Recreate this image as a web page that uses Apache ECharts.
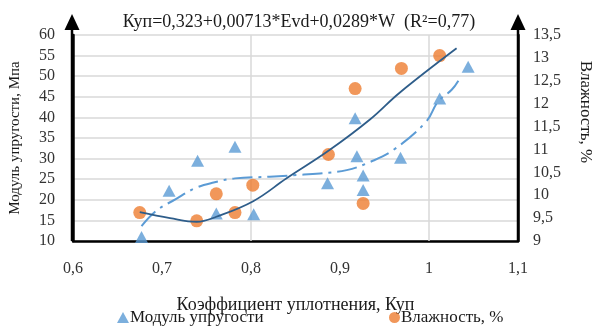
<!DOCTYPE html>
<html>
<head>
<meta charset="utf-8">
<script src="https://cdn.jsdelivr.net/npm/echarts@6/dist/echarts.min.js"></script>
<style>html,body{margin:0;padding:0;background:#fff}#c{width:598px;height:327px}</style>
</head>
<body>
<div id="c"></div>
<script>
// ---- data ----
var titleText = 'Куп=0,323+0,00713*Evd+0,0289*W  (R²=0,77)';
var xName = 'Коэффициент уплотнения, Куп';
var yLeftName = 'Модуль упругости, Мпа';
var yRightName = 'Влажность, %';
var seriesNames = ['Модуль упругости', 'Влажность, %'];

// Модуль упругости (triangles, left axis)
var modX = [0.677, 0.708, 0.740, 0.761, 0.782, 0.803, 0.886, 0.917, 0.919, 0.926, 0.926, 0.968, 1.012, 1.044];
var modY = [11.0, 22.2, 29.5, 16.7, 32.9, 16.5, 24.0, 39.8, 30.6, 25.9, 22.4, 30.2, 44.6, 52.3];

// Влажность (circles, right axis)
var humX = [0.675, 0.739, 0.761, 0.782, 0.802, 0.887, 0.917, 0.926, 0.969, 1.012];
var humY = [9.62, 9.44, 10.03, 9.62, 10.22, 10.89, 12.33, 9.82, 12.77, 13.05];

// trend lines
var modTrendX = [0.677, 0.694, 0.715, 0.737, 0.758, 0.782, 0.821, 0.851, 0.8775, 0.9075, 0.934, 0.960, 0.997, 1.010, 1.0255, 1.033];
var modTrendY = [13.6, 17.4, 20.1, 22.8, 24.2, 25.2, 25.6, 26.0, 26.4, 27.2, 29.2, 32.1, 39.0, 43.8, 46.7, 48.9];
var humTrendX = [0.675, 0.709, 0.739, 0.761, 0.8025, 0.840, 0.887, 0.934, 0.967, 1.031];
var humTrendY = [9.63, 9.50, 9.42, 9.53, 9.87, 10.37, 10.97, 11.66, 12.24, 13.21];

// axes
var xMin = 0.6, xMax = 1.1, xStep = 0.1;
var yLMin = 10, yLMax = 60, yLStep = 5;
var yRMin = 9, yRMax = 13.5, yRStep = 0.5;
var xGridLines = [0.8, 1.0];

function zip(a, b) { return a.map(function (v, i) { return [v, b[i]]; }); }
function comma(v) { return String(Math.round(v * 10) / 10).replace('.', ','); }

var FONT = '"Liberation Serif", "DejaVu Serif", serif';
var chart = echarts.init(document.getElementById('c'), null, {renderer: 'canvas'});
var G = {left: 72, right: 80, top: 35, bottom: 86};

chart.setOption({
  animation: false,
  backgroundColor: '#fff',
  textStyle: {fontFamily: FONT},
  title: {
    text: titleText, left: 'center', top: 8,
    textStyle: {fontFamily: FONT, fontSize: 18, fontWeight: 'normal', color: '#1a1a1a'}
  },
  grid: G,
  legend: [
    {data: [{name: seriesNames[0], icon: 'triangle'}], left: 117, top: 309, padding: 0, itemWidth: 12, itemHeight: 11, itemGap: 2,
      textStyle: {fontFamily: FONT, fontSize: 17, color: '#1a1a1a', padding: [0, 0, 0, -4]}},
    {data: [{name: seriesNames[1], icon: 'circle'}], left: 389, top: 309, padding: 0, itemWidth: 11, itemHeight: 11,
      textStyle: {fontFamily: FONT, fontSize: 17, color: '#1a1a1a', padding: [0, 0, 0, -4]}}
  ],
  xAxis: {
    type: 'value', min: xMin, max: xMax, interval: xStep,
    name: xName, nameLocation: 'middle', nameGap: 55,
    nameTextStyle: {fontFamily: FONT, fontSize: 18, color: '#1a1a1a'},
    axisLine: {show: true, onZero: false, lineStyle: {color: '#000', width: 2.5}},
    axisTick: {show: false},
    axisLabel: {margin: 20, fontFamily: FONT, fontSize: 16, color: '#333', formatter: comma},
    splitLine: {show: false}
  },
  yAxis: [
    {
      type: 'value', min: yLMin, max: yLMax, interval: yLStep, position: 'left',
      name: yLeftName, nameLocation: 'middle', nameGap: 50,
      nameTextStyle: {fontFamily: FONT, fontSize: 15, color: '#1a1a1a'},
      axisLine: {show: true, onZero: false, lineStyle: {color: '#000', width: 2.5}},
      axisTick: {show: false},
      axisLabel: {margin: 18, fontFamily: FONT, fontSize: 16, color: '#333'},
      splitLine: {show: true, lineStyle: {color: '#d9d9d9', width: 1.5}}
    },
    {
      type: 'value', min: yRMin, max: yRMax, interval: yRStep, position: 'right',
      axisLine: {show: true, onZero: false, lineStyle: {color: '#000', width: 2.5}},
      axisTick: {show: false},
      axisLabel: {margin: 15, fontFamily: FONT, fontSize: 16, color: '#333', formatter: comma},
      splitLine: {show: false}
    }
  ],
  graphic: [
    {type: 'line', shape: {x1: 72, y1: 241, x2: 72, y2: 28}, style: {stroke: '#000', lineWidth: 2.5}, z: 100},
    {type: 'polygon', shape: {points: [[72, 14], [64.5, 30], [79.5, 30]]}, style: {fill: '#000'}, z: 100},
    {type: 'line', shape: {x1: 518, y1: 241, x2: 518, y2: 28}, style: {stroke: '#000', lineWidth: 2.5}, z: 100},
    {type: 'polygon', shape: {points: [[518, 14], [510.5, 30], [525.5, 30]]}, style: {fill: '#000'}, z: 100},
    {type: 'text', x: 585, y: 112, rotation: -Math.PI / 2,
      style: {text: yRightName, fontFamily: FONT, fontSize: 17, fill: '#1a1a1a', textAlign: 'center', textVerticalAlign: 'middle'}}
  ],
  series: [
    {
      name: seriesNames[0], type: 'scatter', yAxisIndex: 0, symbol: 'triangle', symbolSize: [13, 12],
      itemStyle: {color: '#5B9BD5'}, data: zip(modX, modY), z: 5,
      markLine: {
        silent: true, symbol: 'none', label: {show: false},
        lineStyle: {color: '#d9d9d9', width: 1.5, type: 'solid'},
        data: xGridLines.map(function (v) { return {xAxis: v}; }), z: 1
      }
    },
    {
      name: seriesNames[1], type: 'scatter', yAxisIndex: 1, symbol: 'circle', symbolSize: 13,
      itemStyle: {color: '#ED7D31'}, data: zip(humX, humY), z: 5
    },
    {
      name: 'trendMod', type: 'line', yAxisIndex: 0, showSymbol: false, smooth: 0.4,
      lineStyle: {color: '#5B9BD5', width: 2, type: [20, 6, 3, 6]},
      data: zip(modTrendX, modTrendY), z: 4
    },
    {
      name: 'trendHum', type: 'line', yAxisIndex: 1, showSymbol: false, smooth: 0.4,
      lineStyle: {color: '#2E5D8A', width: 1.8},
      data: zip(humTrendX, humTrendY), z: 6
    }
  ]
});
</script>
</body>
</html>
